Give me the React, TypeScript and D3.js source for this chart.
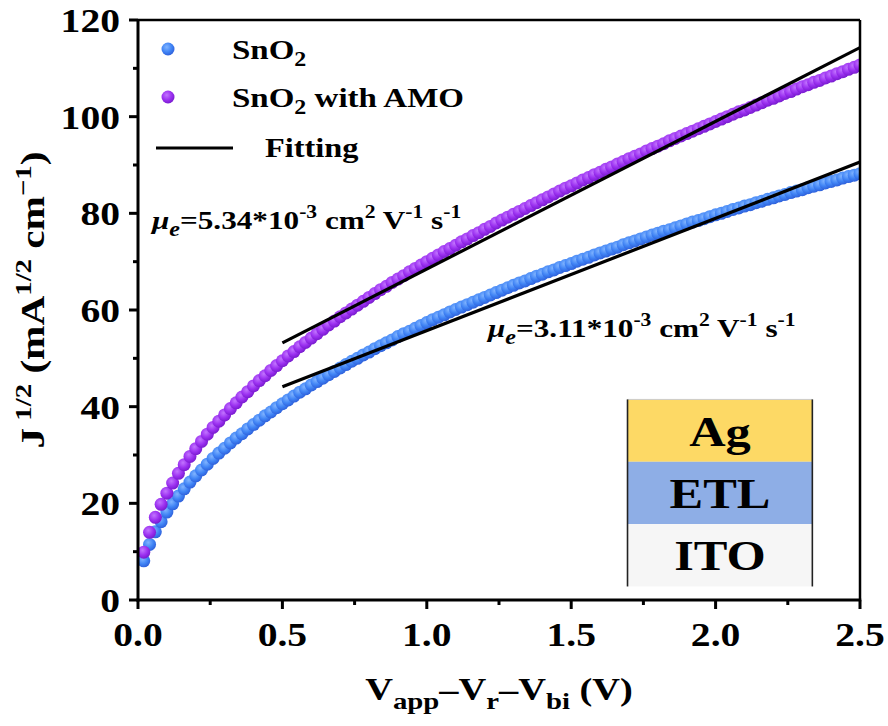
import * as d3 from "d3";

// voltage axis: first point and spacing of the measured sweep
const V_START = 0.02;
const V_STEP = 0.02;

// J^1/2, SnO2 (blue)
const sno2 = [
  8.1, 11.5, 14.1, 16.2, 18.2, 19.9, 21.5, 23.0, 24.4, 25.7,
  26.9, 28.1, 29.3, 30.4, 31.4, 32.5, 33.5, 34.4, 35.4, 36.3,
  37.2, 38.1, 38.9, 39.8, 40.6, 41.4, 42.2, 43.0, 43.7, 44.5,
  45.2, 45.9, 46.6, 47.3, 48.0, 48.7, 49.4, 50.0, 50.7, 51.3,
  52.0, 52.6, 53.2, 53.8, 54.5, 55.1, 55.6, 56.2, 56.8, 57.4,
  58.0, 58.5, 59.0, 59.6, 60.1, 60.6, 61.1, 61.6, 62.1, 62.6,
  63.1, 63.6, 64.1, 64.6, 65.1, 65.6, 66.0, 66.5, 67.0, 67.4,
  67.9, 68.3, 68.8, 69.2, 69.6, 70.1, 70.5, 70.9, 71.4, 71.8,
  72.2, 72.6, 73.0, 73.5, 73.9, 74.3, 74.7, 75.1, 75.5, 75.9,
  76.3, 76.6, 77.0, 77.4, 77.8, 78.2, 78.5, 78.9, 79.3, 79.7,
  80.0, 80.4, 80.8, 81.1, 81.5, 81.8, 82.2, 82.5, 82.9, 83.2,
  83.6, 83.9, 84.3, 84.6, 84.9, 85.3, 85.6, 85.9, 86.3, 86.6,
  86.9, 87.3, 87.6, 87.9, 88.2,
];

// SnO2 with AMO (purple)
const sno2Amo = [
  9.9, 14.0, 17.1, 19.8, 22.1, 24.2, 26.2, 28.0, 29.7, 31.3,
  32.8, 34.3, 35.7, 37.0, 38.3, 39.6, 40.8, 42.0, 43.1, 44.3,
  45.4, 46.4, 47.5, 48.5, 49.5, 50.5, 51.4, 52.4, 53.3, 54.2,
  55.1, 56.0, 56.9, 57.7, 58.6, 59.4, 60.2, 61.0, 61.8, 62.6,
  63.4, 64.2, 64.9, 65.7, 66.4, 67.1, 67.9, 68.6, 69.3, 70.0,
  70.7, 71.4, 72.1, 72.7, 73.4, 74.1, 74.7, 75.4, 76.0, 76.7,
  77.3, 78.0, 78.6, 79.2, 79.8, 80.4, 81.0, 81.6, 82.2, 82.8,
  83.4, 84.0, 84.6, 85.2, 85.7, 86.3, 86.9, 87.4, 88.0, 88.5,
  89.1, 89.6, 90.2, 90.7, 91.3, 91.8, 92.3, 92.9, 93.4, 93.9,
  94.4, 95.0, 95.5, 96.0, 96.5, 97.0, 97.5, 98.0, 98.5, 99.0,
  99.5, 100.0, 100.5, 101.0, 101.4, 101.9, 102.4, 102.9, 103.4, 103.8,
  104.3, 104.8, 105.2, 105.7, 106.2, 106.6, 107.1, 107.5, 108.0, 108.4,
  108.9, 109.3, 109.8, 110.2, 110.7,
];

// linear fits (end points)
const fitSnO2: [number, number][] = [[0.5, 44.1], [2.5, 90.6]];
const fitAmo: [number, number][] = [[0.5, 53.2], [2.5, 114.3]];

const xTicks = [0, 0.5, 1.0, 1.5, 2.0, 2.5];
const xMinor = [0.25, 0.75, 1.25, 1.75, 2.25];
const yTicks = [0, 20, 40, 60, 80, 100, 120];
const yMinor = [10, 30, 50, 70, 90, 110];

const layers = ["Ag", "ETL", "ITO"];
const layerColors = ["#fdd965", "#8eaee6", "#f6f6f6"];

const W = 888;
const H = 726;
const margin = { top: 20, right: 28, bottom: 126, left: 138 };
const SX = 1.2; // the figure's lettering is a bit wide
const FONT = "'Liberation Serif', 'Times New Roman', serif";

function Txt(props: any) {
  const { x, y, size, anchor = "start", rotate = 0, stretch = SX, children } = props;
  const tf = rotate
    ? `translate(${x},${y}) rotate(${rotate}) scale(${stretch},1)`
    : `translate(${x},${y}) scale(${stretch},1)`;
  return (
    <text transform={tf} fontSize={size} fontFamily={FONT} fontWeight="bold" textAnchor={anchor} fill="#000">
      {children}
    </text>
  );
}

function Mobility({ x, y, value }: { x: number; y: number; value: string }) {
  return (
    <Txt x={x} y={y} size={26}>
      <tspan fontStyle="italic">μ</tspan>
      <tspan fontStyle="italic" fontSize={20} dy={7}>e</tspan>
      <tspan dy={-7}>={value}*10</tspan>
      <tspan fontSize={18} dy={-11}>-3</tspan>
      <tspan dy={11}> cm</tspan>
      <tspan fontSize={18} dy={-11}>2</tspan>
      <tspan dy={11}> V</tspan>
      <tspan fontSize={18} dy={-11}>-1</tspan>
      <tspan dy={11}> s</tspan>
      <tspan fontSize={18} dy={-11}>-1</tspan>
    </Txt>
  );
}

export default function App() {
  const x = d3.scaleLinear().domain([0, 2.5]).range([margin.left, W - margin.right]);
  const y = d3.scaleLinear().domain([0, 120]).range([H - margin.bottom, margin.top]);
  const x0 = margin.left;
  const x1 = W - margin.right;
  const y0 = H - margin.bottom;
  const y1 = margin.top;

  const vx = (i: number) => V_START + V_STEP * i;
  const line = d3.line<[number, number]>().x((d) => x(d[0])).y((d) => y(d[1]));

  // inset placed in data units so it sits inside the frame
  const inset = { v0: 1.695, v1: 2.335, top: 41.5, bottom: 2.8 };
  const layerH = (inset.top - inset.bottom) / layers.length;
  const R = 6.5;

  return (
    <svg width={W} height={H} style={{ position: "absolute", left: 0, top: 0, background: "#fff" }}>
      <defs>
        <radialGradient id="gBlue" cx="0.4" cy="0.35" r="0.65">
          <stop offset="0" stopColor="#80b4ff" />
          <stop offset="0.6" stopColor="#4084f5" />
          <stop offset="1" stopColor="#2f62dc" />
        </radialGradient>
        <radialGradient id="gPurple" cx="0.4" cy="0.35" r="0.65">
          <stop offset="0" stopColor="#c274ff" />
          <stop offset="0.6" stopColor="#9b30f0" />
          <stop offset="1" stopColor="#7a1cd0" />
        </radialGradient>
        <clipPath id="plotClip">
          <rect x={x0} y={y1} width={x1 - x0} height={y0 - y1} />
        </clipPath>
      </defs>

      {/* inset: device stack */}
      {layers.map((name, i) => {
        const top = y(inset.top - layerH * i);
        const bot = y(inset.top - layerH * (i + 1));
        return (
          <g key={name}>
            <rect x={x(inset.v0)} y={top} width={x(inset.v1) - x(inset.v0)} height={bot - top} fill={layerColors[i]} />
            <Txt x={(x(inset.v0) + x(inset.v1)) / 2} y={(top + bot) / 2 + 15} size={42} anchor="middle">
              {name}
            </Txt>
          </g>
        );
      })}
      <line x1={x(inset.v0)} x2={x(inset.v1)} y1={y(inset.top)} y2={y(inset.top)} stroke="#ccc" strokeWidth={1} />
      <line x1={x(inset.v0)} x2={x(inset.v0)} y1={y(inset.top)} y2={y(inset.bottom)} stroke="#222" strokeWidth={1.6} />
      <line x1={x(inset.v1)} x2={x(inset.v1)} y1={y(inset.top)} y2={y(inset.bottom)} stroke="#222" strokeWidth={1.6} />

      {/* data */}
      <g clipPath="url(#plotClip)">
        {sno2.map((v, i) => (
          <circle key={"b" + i} cx={x(vx(i))} cy={y(v)} r={R} fill="url(#gBlue)" />
        ))}
        {sno2Amo.map((v, i) => (
          <circle key={"p" + i} cx={x(vx(i))} cy={y(v)} r={R} fill="url(#gPurple)" />
        ))}
        <path d={line(fitSnO2) || ""} stroke="#000" strokeWidth={3.2} fill="none" />
        <path d={line(fitAmo) || ""} stroke="#000" strokeWidth={3.2} fill="none" />
      </g>

      {/* frame */}
      <line x1={x0} x2={x1} y1={y1} y2={y1} stroke="#000" strokeWidth={2.5} />
      <line x1={x1} x2={x1} y1={y1} y2={y0} stroke="#000" strokeWidth={2.5} />
      <line x1={x0} x2={x0} y1={y1 - 1} y2={y0 + 1.5} stroke="#000" strokeWidth={3} />
      <line x1={x0 - 1.5} x2={x1 + 1.2} y1={y0} y2={y0} stroke="#000" strokeWidth={3} />

      {/* ticks */}
      {xTicks.map((t) => (
        <g key={"xt" + t}>
          <line x1={x(t)} x2={x(t)} y1={y0} y2={y0 + 9} stroke="#000" strokeWidth={3} />
          <Txt x={x(t)} y={y0 + 46} size={33} anchor="middle">{t.toFixed(1)}</Txt>
        </g>
      ))}
      {xMinor.map((t) => (
        <line key={"xm" + t} x1={x(t)} x2={x(t)} y1={y0} y2={y0 + 5} stroke="#000" strokeWidth={3} />
      ))}
      {yTicks.map((t) => (
        <g key={"yt" + t}>
          <line x1={x0 - 9} x2={x0} y1={y(t)} y2={y(t)} stroke="#000" strokeWidth={3} />
          <Txt x={x0 - 18} y={y(t) + 12} size={33} anchor="end">{t}</Txt>
        </g>
      ))}
      {yMinor.map((t) => (
        <line key={"ym" + t} x1={x0 - 5} x2={x0} y1={y(t)} y2={y(t)} stroke="#000" strokeWidth={3} />
      ))}

      {/* axis titles */}
      <Txt x={(x0 + x1) / 2} y={700} size={32} anchor="middle">
        V<tspan fontSize={24} dy={9}>app</tspan>
        <tspan dy={-9}>–V</tspan>
        <tspan fontSize={24} dy={9}>r</tspan>
        <tspan dy={-9}>–V</tspan>
        <tspan fontSize={24} dy={9}>bi</tspan>
        <tspan dy={-9}> (V)</tspan>
      </Txt>
      <Txt x={44} y={(y0 + y1) / 2 - 10} size={33} anchor="middle" rotate={-90} stretch={1.25}>
        J<tspan fontSize={23} dy={-13}> 1/2</tspan>
        <tspan dy={13}> (mA</tspan>
        <tspan fontSize={23} dy={-13}>1/2</tspan>
        <tspan dy={13}> cm</tspan>
        <tspan fontSize={23} dy={-13}>−1</tspan>
        <tspan dy={13}>)</tspan>
      </Txt>

      {/* legend */}
      <circle cx={168} cy={49} r={R} fill="url(#gBlue)" />
      <Txt x={232} y={59} size={27.5}>
        SnO<tspan fontSize={20} dy={7}>2</tspan>
      </Txt>
      <circle cx={168} cy={97} r={R} fill="url(#gPurple)" />
      <Txt x={232} y={107} size={27.5}>
        SnO<tspan fontSize={20} dy={7}>2</tspan>
        <tspan dy={-7}> with AMO</tspan>
      </Txt>
      <line x1={156} x2={233} y1={148} y2={148} stroke="#000" strokeWidth={3.2} />
      <Txt x={265} y={157} size={27}>Fitting</Txt>

      {/* annotations */}
      <Mobility x={152} y={229} value="5.34" />
      <Mobility x={488} y={337} value="3.11" />
    </svg>
  );
}
